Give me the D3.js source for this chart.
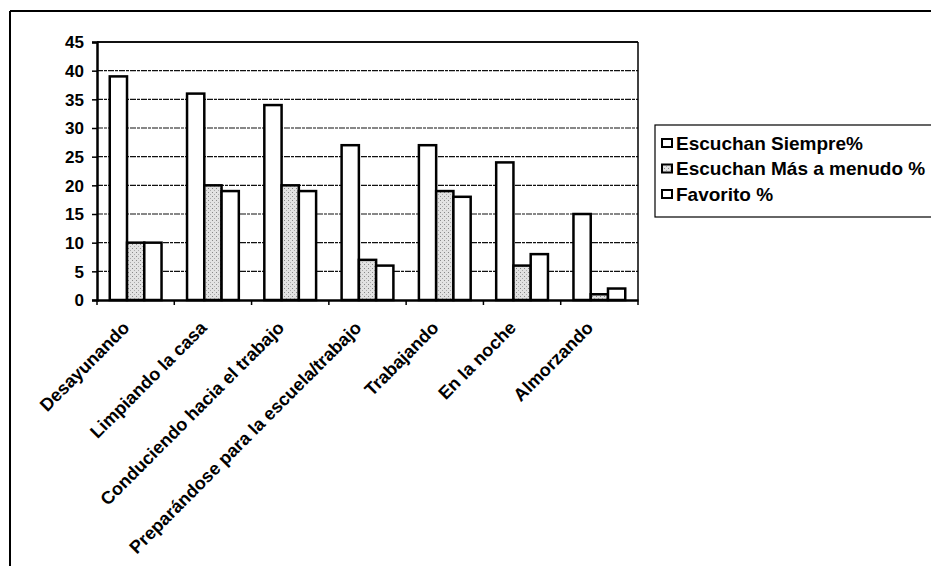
<!DOCTYPE html>
<html><head><meta charset="utf-8">
<script src="https://cdn.jsdelivr.net/npm/d3@7"></script>
<style>body{margin:0;background:#fff}svg{display:block}text{font-family:"Liberation Sans",Arial,sans-serif;font-weight:bold;fill:#000}</style>
</head><body><svg id="c" width="931" height="569"></svg>
<script>
const categories = ["Desayunando","Limpiando la casa","Conduciendo hacia el trabajo","Preparándose para la escuela/trabajo","Trabajando","En la noche","Almorzando"];
const seriesNames = ["Escuchan Siempre%","Escuchan Más a menudo %","Favorito %"];
const siempre = [39,36,34,27,27,24,15];
const menudo = [10,20,20,7,19,6,1];
const favorito = [10,19,19,6,18,8,2];
const yTicks = [0,5,10,15,20,25,30,35,40,45];

const series = [siempre, menudo, favorito];
const svg = d3.select("#c");
const defs = svg.append("defs");
const pat = defs.append("pattern").attr("id","stip").attr("width",4).attr("height",4).attr("patternUnits","userSpaceOnUse");
pat.append("rect").attr("width",4).attr("height",4).attr("fill","#e2e2e2");
pat.append("rect").attr("x",0).attr("y",0).attr("width",1).attr("height",1).attr("fill","#888");
pat.append("rect").attr("x",2).attr("y",2).attr("width",1).attr("height",1).attr("fill","#aaa");
const fills = ["#fff","url(#stip)","#fff"];

// outer chart frame (top & left edges visible)
svg.append("line").attr("x1",10).attr("y1",11).attr("x2",931).attr("y2",11).attr("stroke","#000").attr("stroke-width",2);
svg.append("line").attr("x1",10).attr("y1",11).attr("x2",10).attr("y2",566).attr("stroke","#000").attr("stroke-width",2);

const L=97, R=638, T=42, B=300;
const x0 = d3.scaleBand().domain(categories).range([L,R]).paddingInner(0.33).paddingOuter(0.165);
const x1 = d3.scaleBand().domain(d3.range(3)).range([0,x0.bandwidth()]);
const y = d3.scaleLinear().domain([0,45]).range([B,T]);

// gridlines
svg.append("g").selectAll("line").data(yTicks.filter(d=>d>0)).join("line")
  .attr("x1",L).attr("x2",R).attr("y1",d=>y(d)).attr("y2",d=>y(d))
  .attr("stroke","#111").attr("stroke-width",d=>d===45?2:1.2).attr("stroke-dasharray",d=>d===45?null:"6,1,3,1");
// right border
svg.append("line").attr("x1",R).attr("x2",R).attr("y1",T).attr("y2",B).attr("stroke","#000").attr("stroke-width",1.5);

// bars
const g = svg.append("g");
categories.forEach((c,i)=>{
  series.forEach((s,j)=>{
    g.append("rect").attr("x",x0(c)+x1(j)).attr("y",y(s[i])).attr("width",x1.bandwidth()).attr("height",B-y(s[i]))
      .attr("fill",fills[j]).attr("stroke","#000").attr("stroke-width",2.5);
  });
});

// y axis
const ya = svg.append("g").attr("transform",`translate(${L},0)`).call(d3.axisLeft(y).tickValues(yTicks).tickSize(5).tickPadding(8));
ya.select(".domain").attr("stroke-width",2.5);
ya.selectAll(".tick line").attr("stroke-width",1.5);
ya.selectAll("text").style("font-size","17px").attr("dy","0.35em");

// x axis
const xa = svg.append("g").attr("transform",`translate(0,${B})`)
  .call(d3.axisBottom(x0).tickSize(0).tickFormat(""));
xa.select(".domain").attr("stroke-width",2.5);
const tickPos = d3.range(categories.length+1).map(i=>L+i*x0.step());
svg.append("g").selectAll("line").data(tickPos).join("line")
  .attr("x1",d=>d).attr("x2",d=>d).attr("y1",B).attr("y2",B+5).attr("stroke","#000").attr("stroke-width",1.5);
svg.append("g").selectAll("text").data(categories).join("text")
  .attr("transform",d=>`translate(${x0(d)+x0.bandwidth()/2-5},${B+29}) rotate(-45)`)
  .attr("text-anchor","end").style("font-size","18px").text(d=>d);

// legend
const lg = svg.append("g");
lg.append("rect").attr("x",655).attr("y",125).attr("width",290).attr("height",92).attr("fill","#fff").attr("stroke","#000").attr("stroke-width",1.2);
seriesNames.forEach((n,i)=>{
  const yy = 143 + i*25.5;
  lg.append("rect").attr("x",662).attr("y",yy-4).attr("width",10).attr("height",8).attr("fill",fills[i]).attr("stroke","#000").attr("stroke-width",2);
  lg.append("text").attr("x",676).attr("y",yy).attr("dy","0.35em").style("font-size","19px").text(n);
});
</script></body></html>
